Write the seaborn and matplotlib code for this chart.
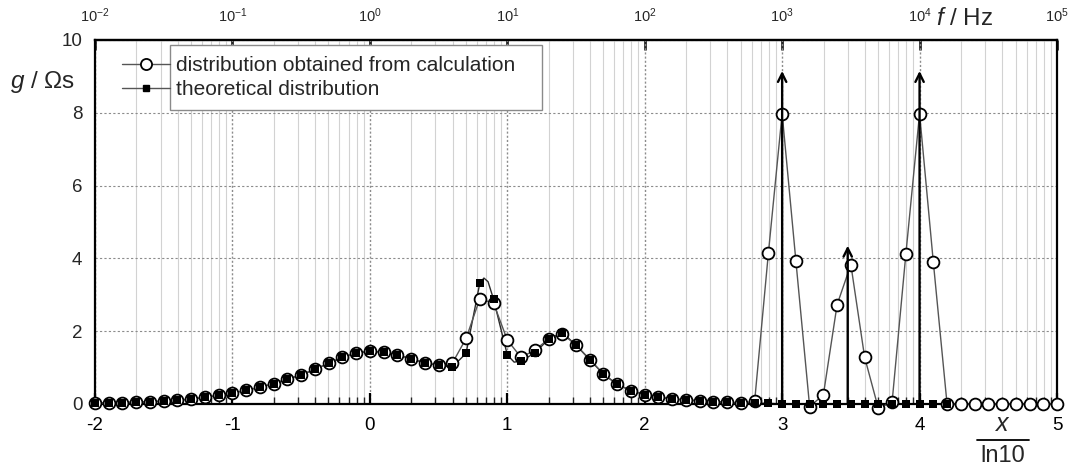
import numpy as np
import pandas as pd
import matplotlib
matplotlib.use("Agg")
import matplotlib.pyplot as plt
from matplotlib.lines import Line2D
from matplotlib.patches import Rectangle
import seaborn as sns

# ---------------- data ----------------
x_calc = np.round(np.arange(-2.0, 5.0001, 0.1), 1)
g_calc = [0.02, 0.03, 0.04, 0.05, 0.06, 0.08, 0.10, 0.14, 0.18, 0.24,
          0.30, 0.38, 0.46, 0.56, 0.68, 0.80, 0.95, 1.12, 1.28, 1.40,
          1.45, 1.42, 1.35, 1.24, 1.13, 1.07, 1.12, 1.80, 2.89, 2.77,
          1.76, 1.28, 1.48, 1.78, 1.93, 1.62, 1.22, 0.82, 0.54, 0.37,
          0.26, 0.19, 0.14, 0.11, 0.09, 0.06, 0.05, 0.02, 0.08, 4.15,
          7.98, 3.93, -0.07, 0.25, 2.73, 3.83, 1.29, -0.12, 0.05, 4.11,
          7.98, 3.90, 0.00, 0.00, 0.00, 0.00, 0.00, 0.00, 0.00, 0.00,
          0.00]

x_theory = np.round(np.arange(-2.0, 4.2001, 0.1), 1)
g_theory = [0.02, 0.03, 0.04, 0.05, 0.06, 0.08, 0.10, 0.14, 0.18, 0.24,
            0.30, 0.38, 0.46, 0.56, 0.68, 0.80, 0.95, 1.12, 1.28, 1.40,
            1.45, 1.42, 1.35, 1.24, 1.13, 1.06, 1.02, 1.39, 3.32, 2.88,
            1.35, 1.18, 1.40, 1.78, 1.96, 1.62, 1.22, 0.82, 0.54, 0.37,
            0.26, 0.19, 0.14, 0.11, 0.09, 0.06, 0.05, 0.03, 0.02, 0.02,
            0.00, 0.00, 0.00, 0.00, 0.00, 0.00, 0.00, 0.00, 0.00, 0.00,
            0.00, 0.00, 0.00]

# extra points
curve_extra_x = [0.83, 0.86, 1.05]
curve_extra_g = [3.46, 3.36, 1.15]

# delta peaks of the theoretical distribution (log10 f, height of arrow)
delta_x = [3.0, np.log10(3000.0), 4.0]
delta_h = [9.15, 4.35, 9.15]

decades = list(range(-2, 6))
x_tick_labels = [str(k) for k in decades]
top_tick_labels = [r"$10^{%d}$" % k for k in decades]
y_ticks = [0, 2, 4, 6, 8, 10]

legend_labels = ["distribution obtained from calculation", "theoretical distribution"]

# ---------------- style ----------------
sns.set_style("white")
plt.rcParams["font.family"] = ["Liberation Sans", "DejaVu Sans"]
plt.rcParams["mathtext.fontset"] = "custom"
plt.rcParams["mathtext.rm"] = "Liberation Sans"
plt.rcParams["mathtext.it"] = "Liberation Sans:italic"
plt.rcParams["axes.unicode_minus"] = False

W, H = 1071, 470
fig = plt.figure(figsize=(W / 100, H / 100), dpi=100)
L, R, T, B = 95, 1057, 40, 404
ax = fig.add_axes([L / W, 1 - B / H, (R - L) / W, (B - T) / H])

# theoretical smooth curve
curve = pd.DataFrame({"x": np.concatenate([x_theory, curve_extra_x]),
                      "g": np.concatenate([g_theory, curve_extra_g])}).sort_values("x")
sns.lineplot(data=curve, x="x", y="g", ax=ax, color="#2a2a2a", lw=1.0,
             estimator=None, sort=True, zorder=2.5)

# calculated distribution
calc = pd.DataFrame({"x": x_calc, "g": g_calc})
sns.lineplot(data=calc, x="x", y="g", ax=ax, color="#555555", lw=1.0,
             marker="o", markersize=8.5, markerfacecolor="white",
             markeredgecolor="black", markeredgewidth=1.3,
             estimator=None, sort=False, zorder=3, clip_on=False)

# theoretical samples
theo = pd.DataFrame({"x": x_theory, "g": g_theory})
sns.scatterplot(data=theo, x="x", y="g", ax=ax, marker="s", s=30,
                color="black", linewidth=0, zorder=4, clip_on=False)

# delta arrows
for xd, hd in zip(delta_x, delta_h):
    ax.annotate("", xy=(xd, hd), xytext=(xd, 0), xycoords="data",
                arrowprops=dict(arrowstyle="->", lw=1.7, color="black",
                                mutation_scale=15, shrinkA=0, shrinkB=0),
                zorder=5)

# axes, ticks, grid
ax.set_xlim(-2, 5)
ax.set_ylim(0, 10)
ax.set_xticks(decades)
ax.set_xticklabels(x_tick_labels)
minor = [d + np.log10(k) for d in decades[:-1] for k in range(2, 10)]
ax.set_xticks(minor, minor=True)
ax.set_yticks(y_ticks)
ax.set_yticklabels([str(v) for v in y_ticks])
ax.set_xlabel("")
ax.set_ylabel("")
ax.set_axisbelow(True)
ax.grid(which="minor", axis="x", color="#d2d2d2", lw=0.8, ls="-")
ax.grid(which="major", axis="x", color="#8c8c8c", lw=1.0, ls=(0, (1.5, 1.5)))
ax.grid(which="major", axis="y", color="#8c8c8c", lw=0.8, ls=(0, (2, 2)))
ax.tick_params(axis="x", which="major", direction="in", length=8, width=1.6,
               labelsize=13.5, pad=9, colors="black", bottom=True)
ax.tick_params(axis="x", which="minor", direction="in", length=5, width=1.0,
               bottom=True)
ax.tick_params(axis="y", length=0, labelsize=13.5, pad=9)
for sp in ax.spines.values():
    sp.set_linewidth(1.6)
    sp.set_color("black")

secax = ax.secondary_xaxis("top")
secax.set_xticks(decades)
secax.set_xticklabels(top_tick_labels)
secax.tick_params(direction="in", length=7, width=2, labelsize=10.5, pad=11)
secax.spines["top"].set_linewidth(1.6)

# legend
box = Rectangle(((170 - L) / (R - L), (B - 110) / (B - T)),
                (542 - 170) / (R - L), (110 - 45) / (B - T),
                transform=ax.transAxes, facecolor="white", edgecolor="#8a8a8a",
                lw=1.0, zorder=6)
ax.add_patch(box)
handles = [Line2D([], [], color="#555555", lw=1.0, marker="o", ms=8,
                  mfc="white", mec="black", mew=1.3),
           Line2D([], [], color="#555555", lw=1.0, marker="s", ms=4,
                  mfc="black", mec="black")]
leg = ax.legend(handles, legend_labels, loc="upper left",
                bbox_to_anchor=((122 - L) / (R - L), (B - 56) / (B - T)),
                frameon=False, fontsize=15, handlelength=2.3,
                handletextpad=0.3, labelspacing=0.25, borderpad=0,
                borderaxespad=0)
leg.set_zorder(7)

# axis labels
fig.text(10 / W, 1 - 82 / H, r"$g$ / Ωs", fontsize=17.5, ha="left", va="center")
fig.text(965 / W, 1 - 19 / H, r"$f$ / Hz", fontsize=17.5, ha="center", va="center")
fig.text(1002 / W, 1 - 424 / H, r"$x$", fontsize=18, ha="center", va="center")
fig.add_artist(Line2D([977 / W, 1029 / W], [1 - 440 / H, 1 - 440 / H],
                      color="black", lw=1.3))
fig.text(1003 / W, 1 - 456 / H, "ln10", fontsize=17, ha="center", va="center")

fig.savefig("out.png", dpi=100)
